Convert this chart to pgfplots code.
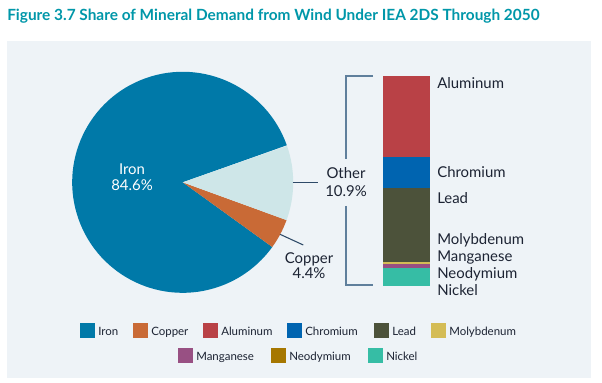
\documentclass[border=0pt]{standalone}
\usepackage{pgfplots}
\pgfplotsset{compat=1.18}
\usepackage{fontspec}
\setmainfont{Lato}
\definecolor{ironc}{HTML}{0079A8}
\definecolor{copperc}{HTML}{C96A36}
\definecolor{aluc}{HTML}{B94146}
\definecolor{chromc}{HTML}{0064B0}
\definecolor{leadc}{HTML}{4C523A}
\definecolor{molyc}{HTML}{D4BC55}
\definecolor{mangc}{HTML}{985083}
\definecolor{neoc}{HTML}{A67700}
\definecolor{nickc}{HTML}{36BDA5}
\definecolor{otherc}{HTML}{CEE6E8}
\definecolor{bgc}{HTML}{EEF3F7}
\definecolor{titlec}{HTML}{0097A9}
\definecolor{brackc}{HTML}{5F7F9C}
\definecolor{leadln}{HTML}{2E4A68}
\definecolor{txtc}{HTML}{1C2333}
\begin{document}
\begin{tikzpicture}
\begin{scope}[x=0.75pt,y=0.75pt]
\useasboundingbox (0,0) rectangle (602,382);
\fill[white] (0,0) rectangle (602,382);
\fill[bgc] (7,4) rectangle (591,341);
\node[anchor=base west, inner sep=0, text=titlec, font=\bfseries\fontsize{11.55}{14}\selectfont] at (7,361) {Figure 3.7 Share of Mineral Demand from Wind Under IEA 2DS Through 2050};
\end{scope}

% Pie (centre at 182.7px, 199.7px from bottom; radius 110.5px)
\begin{axis}[at={(137.025pt,149.775pt)}, anchor=center, x=82.875pt, y=82.875pt,
  xmin=-1, xmax=1, ymin=-1, ymax=1, hide axis, clip=false]
  % shares: Iron 84.6, Copper 4.4, Other 10.9 (percent)
  \fill[ironc] (axis cs:0,0) -- ++(19.6:82.875pt) arc[start angle=19.6, delta angle={84.6*3.6}, radius=82.875pt] -- cycle;
  \fill[copperc] (axis cs:0,0) -- ++({19.6+84.6*3.6}:82.875pt) arc[start angle={19.6+84.6*3.6}, delta angle={4.4*3.6}, radius=82.875pt] -- cycle;
  \fill[otherc] (axis cs:0,0) -- ++({19.6+89.0*3.6}:82.875pt) arc[start angle={19.6+89.0*3.6}, delta angle={10.9*3.6}, radius=82.875pt] -- cycle;
\end{axis}

% Stacked bar (left 383px, bottom 96.3px)
\begin{axis}[at={(287.25pt,72.225pt)}, anchor=south west, width=35.25pt, height=157.3pt,
  scale only axis, xmin=-0.5, xmax=0.5, ymin=0, ymax=100.05, enlargelimits=false,
  ybar stacked, bar width=35.25pt, hide axis, clip=false]
  \addplot[fill=nickc, draw=none] coordinates {(0,8.3)};
  \addplot[fill=neoc, draw=none] coordinates {(0,0.3)};
  \addplot[fill=mangc, draw=none] coordinates {(0,1.6)};
  \addplot[fill=molyc, draw=none] coordinates {(0,0.95)};
  \addplot[fill=leadc, draw=none] coordinates {(0,35.6)};
  \addplot[fill=chromc, draw=none] coordinates {(0,14.5)};
  \addplot[fill=aluc, draw=none] coordinates {(0,38.8)};
\end{axis}

\begin{scope}[x=0.75pt,y=0.75pt]
% bracket and leaders
\draw[brackc, line width=1pt] (373,306) -- (346,306) -- (346,223);
\draw[brackc, line width=1pt] (346,176) -- (346,97) -- (373,97);
\draw[leadln, line width=0.8pt] (292.7,199.7) -- (318.3,199.7);
\draw[leadln, line width=0.8pt] (280,147.7) -- (303.3,137);

\tikzset{lbl/.style={inner sep=0, text=txtc, font=\fontsize{11.2}{13}\selectfont}}
\node[lbl, anchor=base, text=white] at (132,207) {Iron};
\node[lbl, anchor=base, text=white] at (132,191) {84.6\%};
\node[lbl, anchor=base] at (346,203.7) {Other};
\node[lbl, anchor=base] at (346,185.3) {10.9\%};
\node[lbl, anchor=base] at (309,118.7) {Copper};
\node[lbl, anchor=base] at (309,103.7) {4.4\%};

\node[lbl, anchor=base west] at (437,293.7) {Aluminum};
\node[lbl, anchor=base west] at (437,204.7) {Chromium};
\node[lbl, anchor=base west] at (437,178.7) {Lead};
\node[lbl, anchor=base west] at (437,137.7) {Molybdenum};
\node[lbl, anchor=base west] at (437,120.3) {Manganese};
\node[lbl, anchor=base west] at (437,103.7) {Neodymium};
\node[lbl, anchor=base west] at (437,86.3) {Nickel};

% legend
\tikzset{leg/.style={inner sep=0, anchor=base west, text=txtc, font=\fontsize{8.6}{10}\selectfont}}
\foreach \xx/\cc/\tt in {80/ironc/Iron, 133/copperc/Copper, 203/aluc/Aluminum, 287/chromc/Chromium, 374/leadc/Lead, 431/molyc/Molybdenum}{
  \fill[\cc] (\xx,44.3) rectangle ++(15,15);
  \node[leg] at (\xx+18,47) {\tt};
}
\foreach \xx/\cc/\tt in {178/mangc/Manganese, 271/neoc/Neodymium, 368/nickc/Nickel}{
  \fill[\cc] (\xx,18.7) rectangle ++(15,15);
  \node[leg] at (\xx+18,22) {\tt};
}
\end{scope}
\end{tikzpicture}
\end{document}
